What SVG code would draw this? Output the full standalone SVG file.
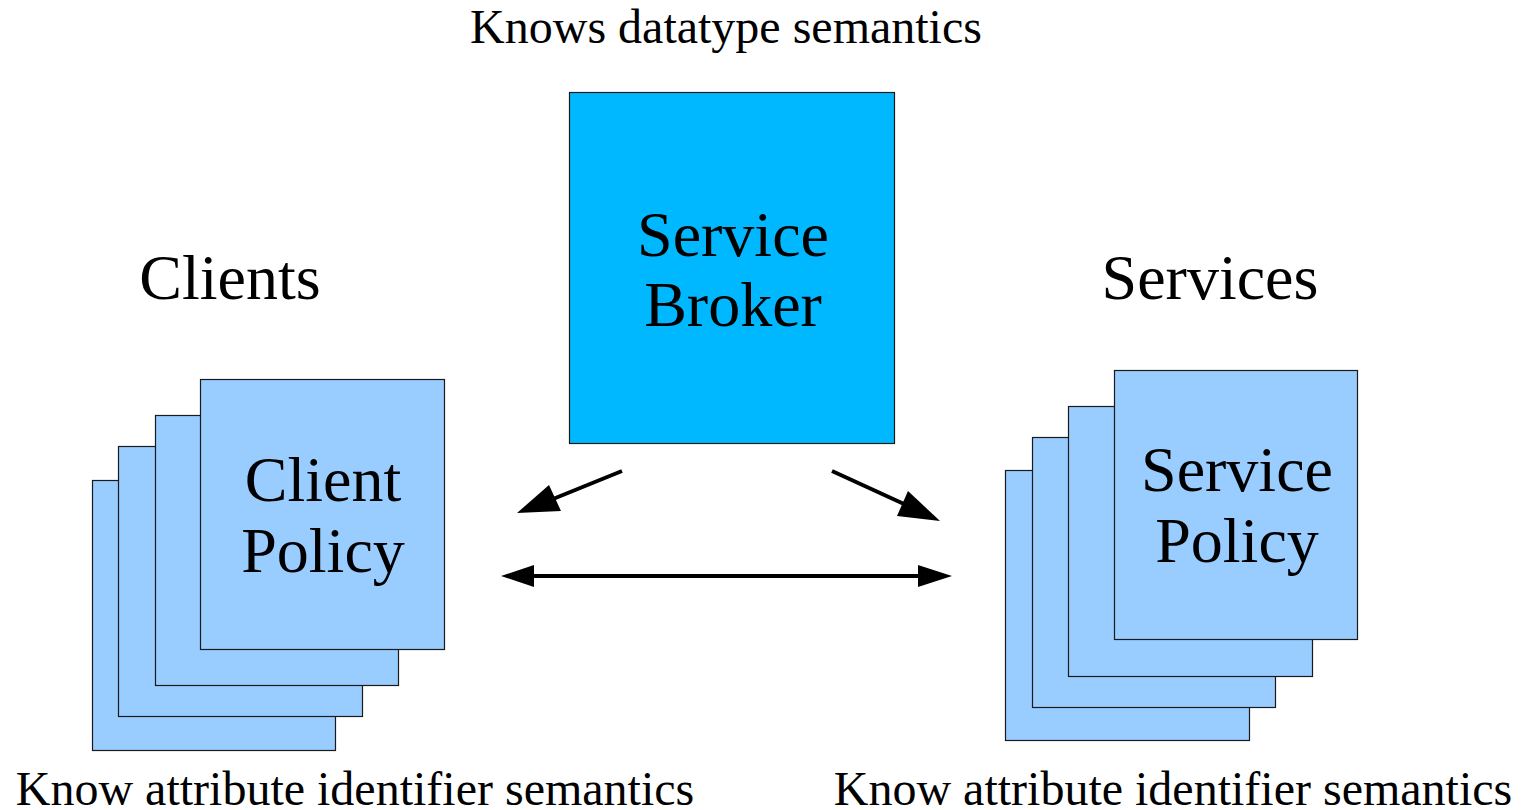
<svg xmlns="http://www.w3.org/2000/svg" width="1521" height="810" viewBox="0 0 1521 810">
<style>
text{font-family:'Liberation Serif','DejaVu Serif',serif;fill:#000;text-anchor:middle}
.big{font-size:64px}
.cap{font-size:48px}
.pol{fill:#99ccff;stroke:#1a1a1a;stroke-width:1.2}
.brk{fill:#00b8ff;stroke:#1a1a1a;stroke-width:1.2}
.ln{stroke:#000;stroke-width:4;fill:none}
.ah{fill:#000}
</style>
<rect width="1521" height="810" fill="#fff"/>
<g id="label-top"><text class="cap" x="726" y="43">Knows datatype semantics</text></g>
<g id="label-clients"><text class="big" x="230" y="299">Clients</text></g>
<g id="label-services"><text class="big" x="1210" y="299">Services</text></g>
<g id="broker">
<rect class="brk" x="569.5" y="92.5" width="325" height="351"/>
<text class="big" x="733" y="256">Service</text>
<text class="big" x="733" y="326">Broker</text>
</g>
<g id="client-policy">
<rect class="pol" x="92.5" y="480.5" width="243" height="270"/>
<rect class="pol" x="118.5" y="446.5" width="244" height="270"/>
<rect class="pol" x="155.5" y="415.5" width="243" height="270"/>
<rect class="pol" x="200.5" y="379.5" width="244" height="270"/>
<text class="big" x="323" y="501">Client</text>
<text class="big" x="323" y="572">Policy</text>
</g>
<g id="service-policy">
<rect class="pol" x="1005.5" y="470.5" width="244" height="270"/>
<rect class="pol" x="1032.5" y="437.5" width="243" height="270"/>
<rect class="pol" x="1068.5" y="406.5" width="244" height="270"/>
<rect class="pol" x="1114.5" y="370.5" width="243" height="269"/>
<text class="big" x="1237" y="491">Service</text>
<text class="big" x="1237" y="562">Policy</text>
</g>
<g id="label-bottom-left"><text class="cap" x="355" y="805">Know attribute identifier semantics</text></g>
<g id="label-bottom-right"><text class="cap" x="1173" y="805">Know attribute identifier semantics</text></g>
<g id="connectors">
<line class="ln" x1="622" y1="471" x2="553" y2="499"/>
<polygon class="ah" points="517,513 549,485 561,511"/>
<line class="ln" x1="832" y1="471" x2="904" y2="504"/>
<polygon class="ah" points="940,521 908,491 897,516"/>
<line class="ln" x1="530" y1="576" x2="922" y2="576"/>
<polygon class="ah" points="501,576 534,565 534,587"/>
<polygon class="ah" points="952,576 918,565 918,587"/>
</g>
</svg>
